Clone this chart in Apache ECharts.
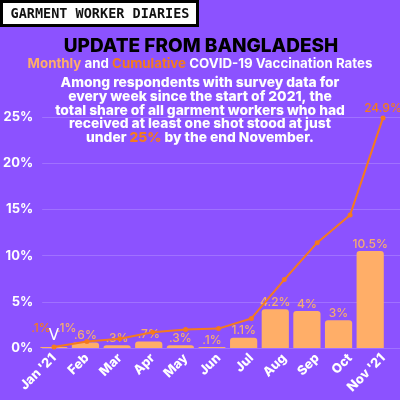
<!DOCTYPE html>
<html><head><meta charset="utf-8">
<script src="https://cdn.jsdelivr.net/npm/echarts@6/dist/echarts.min.js"></script>
<style>html,body{margin:0;padding:0;background:#8c52ff;}#c{width:400px;height:400px;}</style>
</head><body><div id="c"></div>
<script>
const categories = ["Jan '21", "Feb", "Mar", "Apr", "May", "Jun", "Jul", "Aug", "Sep", "Oct", "Nov '21"];
const monthly = [0.1, 0.6, 0.3, 0.7, 0.3, 0.1, 1.1, 4.2, 4.0, 3.0, 10.5];
const monthlyLabels = ['.1%', '.6%', '.3%', '.7%', '.3%', '.1%', '1.1%', '4.2%', '4%', '3%', '10.5%'];
const cumulative = [0.1, 0.7, 1.0, 1.7, 2.0, 2.1, 3.2, 7.4, 11.4, 14.4, 24.9];
const yTicks = [0, 5, 10, 15, 20, 25];

const BG = '#8c52ff', BAR = '#ffae68', LINE = '#f47a1f', PALE = '#f6ad6e';
const FONT = 'Inter';
const chart = echarts.init(document.getElementById('c'), null, {renderer: 'canvas'});

const yBase = {type: 'value', min: yTicks[0], max: yTicks[yTicks.length - 1], interval: 5};
chart.setOption({
  backgroundColor: BG,
  animation: false,
  grid: [
    {left: 38, right: 14, top: 117, bottom: 52},
    {left: 54, right: 17, top: 117, bottom: 52},
    {left: 38, right: 0, top: 117, bottom: 52}
  ],
  xAxis: [
    {type: 'category', gridIndex: 0, data: categories, show: false},
    {type: 'category', gridIndex: 1, data: categories, boundaryGap: false,
      axisLine: {show: false}, axisTick: {show: false},
      axisLabel: {rotate: 45, color: '#fff', fontFamily: FONT, fontWeight: 800, fontSize: 13, margin: 8, interval: 0}},
    {type: 'category', gridIndex: 2, data: categories, show: false}
  ],
  yAxis: [
    Object.assign({gridIndex: 0, show: false}, yBase),
    Object.assign({gridIndex: 1, show: false}, yBase),
    Object.assign({gridIndex: 2,
      axisLine: {show: false}, axisTick: {show: false},
      splitLine: {lineStyle: {color: 'rgba(255,255,255,0.18)', width: 1}},
      axisLabel: {color: '#fff', fontFamily: FONT, fontWeight: 'bold', fontSize: 13, margin: 9,
        formatter: v => v + '%'}}, yBase)
  ],
  series: [
    {type: 'bar', xAxisIndex: 0, yAxisIndex: 0, data: monthly, barCategoryGap: '14%',
      itemStyle: {color: BAR, borderRadius: [3, 3, 0, 0]},
      label: {show: true, position: 'top', distance: 1, color: PALE, fontFamily: FONT, fontSize: 12, fontWeight: 500,
        formatter: p => p.dataIndex === 0 ? '{o|' + monthlyLabels[0] + '}  ' + monthlyLabels[0] : monthlyLabels[p.dataIndex],
        rich: {o: {color: LINE, fontFamily: FONT, fontSize: 12, fontWeight: 500}}},
      labelLayout: p => p.dataIndex === 0 ? {dy: -12} : {}
    },
    {type: 'line', xAxisIndex: 1, yAxisIndex: 1, data: cumulative,
      lineStyle: {color: LINE, width: 2}, itemStyle: {color: LINE}, symbol: 'circle', symbolSize: 5,
      label: {show: true, position: 'top', distance: 1, fontFamily: FONT,
        formatter: p => p.dataIndex === 0 ? '{v|V}' : (p.dataIndex === cumulative.length - 1 ? '{n|' + cumulative[p.dataIndex] + '%}' : ''),
        rich: {v: {color: '#fff', fontSize: 15, fontWeight: 'normal', fontFamily: 'DejaVu Sans'},
               n: {color: LINE, fontSize: 12, fontWeight: 500, fontFamily: FONT}}}
    }
  ],
  graphic: [
    {type: 'rect', shape: {x: 1.5, y: 1.5, width: 196, height: 24}, style: {fill: '#fff', stroke: '#000', lineWidth: 3}},
    {type: 'text', style: {x: 100, y: 14, text: 'GARMENT WORKER DIARIES', fill: '#111', fontFamily: 'DejaVu Sans Mono', fontWeight: 'bold', fontSize: 13.5, align: 'center', verticalAlign: 'middle'}},
    {type: 'text', style: {x: 201, y: 46, text: 'UPDATE FROM BANGLADESH', fill: '#000', fontFamily: FONT, fontWeight: 800, fontSize: 19, align: 'center', verticalAlign: 'middle'}},
    {type: 'text', style: {x: 200, y: 64, text: '{m|Monthly} and {c|Cumulative} COVID-19 Vaccination Rates', fill: '#fff', fontFamily: FONT, fontWeight: 'bold', fontSize: 13.3, align: 'center', verticalAlign: 'middle',
      rich: {m: {fill: BAR, fontFamily: FONT, fontWeight: 'bold', fontSize: 13.3}, c: {fill: LINE, fontFamily: FONT, fontWeight: 'bold', fontSize: 13.3}}}},
    {type: 'text', style: {x: 200, y: 110.5, text: 'Among respondents with survey data for\nevery week since the start of 2021, the\ntotal share of all garment workers who had\nreceived at least one shot stood at just\nunder {o|25%} by the end November.',
      fill: '#fff', fontFamily: FONT, fontWeight: 800, fontSize: 13.8, lineHeight: 13.8, align: 'center', verticalAlign: 'middle',
      rich: {o: {fill: LINE, fontFamily: FONT, fontWeight: 800, fontSize: 13.8, lineHeight: 13.8}}}}
  ]
});
</script></body></html>
